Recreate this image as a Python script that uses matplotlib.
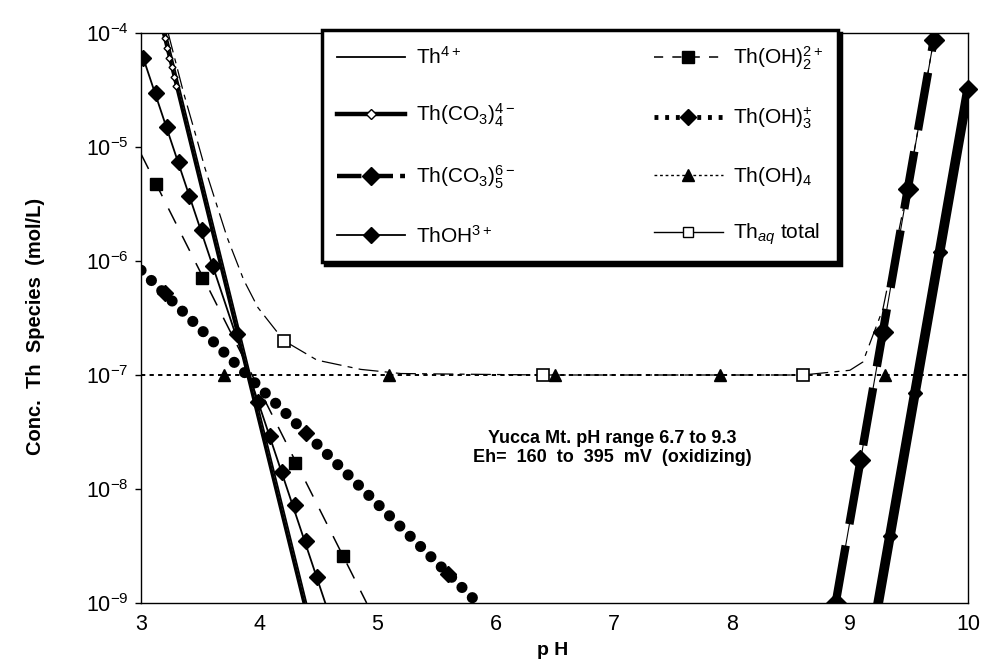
import matplotlib
matplotlib.use("Agg")
import matplotlib.pyplot as plt
from matplotlib.lines import Line2D

plt.rcParams['font.family'] = ['Liberation Sans', 'DejaVu Sans']
plt.rcParams['mathtext.fontset'] = 'custom'
plt.rcParams['mathtext.rm'] = 'Liberation Sans'
plt.rcParams['mathtext.it'] = 'Liberation Sans:italic'
plt.rcParams['mathtext.bf'] = 'Liberation Sans:bold'

# ---- species concentrations (mol/L) versus pH ----
th4_ph = [3.21, 4.40]
th4_c = [1e-4, 1e-9]

thco34_left_ph = [3.19, 4.38]
thco34_left_c = [1e-4, 1e-9]
thco34_left_mk_ph = [3.20, 3.22, 3.24, 3.26, 3.28, 3.30]
thco34_left_mk_c = [9.1e-5, 7.4e-5, 6.0e-5, 5.0e-5, 4.1e-5, 3.4e-5]
thco34_right_ph = [9.24, 10.0]
thco34_right_c = [1e-9, 3.2e-5]
thco34_right_mk_ph = [9.34, 9.55, 9.76]
thco34_right_mk_c = [3.9e-9, 6.9e-8, 1.2e-6]
thco34_end_ph = [10.0]
thco34_end_c = [3.2e-5]

thco35_ph = [8.88, 9.72]
thco35_c = [1e-9, 1e-4]
thco35_mk_ph = [8.88, 9.09, 9.28, 9.49, 9.71]
thco35_mk_c = [1e-9, 1.8e-8, 2.4e-7, 4.3e-6, 8.7e-5]

thoh_ph = [3.02, 4.56]
thoh_c = [6.0e-5, 1e-9]
thoh_mk_ph = [3.02, 3.13, 3.22, 3.32, 3.41, 3.52, 3.61, 3.81, 3.99, 4.09,
              4.19, 4.30, 4.40, 4.49]
thoh_mk_c = [6.0e-5, 2.95e-5, 1.5e-5, 7.4e-6, 3.7e-6, 1.86e-6, 9.1e-7,
             2.3e-7, 5.8e-8, 2.9e-8, 1.4e-8, 7.2e-9, 3.5e-9, 1.7e-9]

thoh2_ph = [3.0, 4.91]
thoh2_c = [8.7e-6, 1e-9]
thoh2_mk_ph = [3.13, 3.52, 4.30, 4.71]
thoh2_mk_c = [4.7e-6, 7.1e-7, 1.7e-8, 2.6e-9]

thoh3_ph = [3.0, 5.85]
thoh3_c = [8.3e-7, 1e-9]
thoh3_mk_ph = [3.2, 4.4, 5.6]
thoh3_mk_c = [5.2e-7, 3.1e-8, 1.8e-9]

thoh4_ph = [3.0, 10.0]
thoh4_c = [1e-7, 1e-7]
thoh4_mk_ph = [3.7, 5.1, 6.5, 7.9, 9.3]
thoh4_mk_c = [1e-7, 1e-7, 1e-7, 1e-7, 1e-7]

total_ph = [3.23, 3.36, 3.47, 3.54, 3.65, 3.73, 3.87, 3.99, 4.21, 4.49, 4.86,
            5.2, 6.4, 8.6, 9.0, 9.11, 9.20, 9.28, 9.50, 9.72]
total_c = [1.0e-4, 3.0e-5, 1.2e-5, 6.6e-6, 2.9e-6, 1.6e-6, 6.8e-7, 3.9e-7,
           2.0e-7, 1.35e-7, 1.12e-7, 1.03e-7, 1.0e-7, 1.0e-7, 1.1e-7, 1.3e-7,
           2.3e-7, 3.8e-7, 5.0e-6, 1.0e-4]
total_mk_ph = [4.21, 6.4, 8.6]
total_mk_c = [2.0e-7, 1.0e-7, 1.0e-7]

x_ticks = [3, 4, 5, 6, 7, 8, 9, 10]
y_ticks = [1e-9, 1e-8, 1e-7, 1e-6, 1e-5, 1e-4]

labels = {
    'th4': 'Th$^{4+}$',
    'thco34': 'Th(CO$_3$)$_4^{4-}$',
    'thco35': 'Th(CO$_3$)$_5^{6-}$',
    'thoh': 'ThOH$^{3+}$',
    'thoh2': 'Th(OH)$_2^{2+}$',
    'thoh3': 'Th(OH)$_3^{+}$',
    'thoh4': 'Th(OH)$_4$',
    'total': 'Th$_{aq}$ total',
}

W, H = 984, 667
fig = plt.figure(figsize=(W / 100, H / 100), dpi=100)
ax = fig.add_axes([141 / W, 1 - 603 / H, (968 - 141) / W, (603 - 33) / H])
ax.set_yscale('log')
ax.set_xlim(3, 10)
ax.set_ylim(1e-9, 1e-4)

K = 'black'

# Th(OH)4 : thin short dashes with triangles
ax.plot(thoh4_ph, thoh4_c, color=K, lw=1.4, dashes=(2.2, 2.2))
ax.plot(thoh4_mk_ph, thoh4_mk_c, ls='none', marker='^', ms=9, color=K)

# aqueous total : thin broken line with open squares
ax.plot(total_ph, total_c, color=K, lw=0.9, dashes=(16, 5, 4, 5))
ax.plot(total_mk_ph, total_mk_c, ls='none', marker='s', ms=8, mfc='white',
        mec=K, mew=1.2)

# Th(OH)2 : thin dashes with filled squares
ax.plot(thoh2_ph, thoh2_c, color=K, lw=1.1, dashes=(11, 9))
ax.plot(thoh2_mk_ph, thoh2_mk_c, ls='none', marker='s', ms=9, color=K)

# Th(OH)3 : heavy dotted line with diamonds
ax.plot(thoh3_ph, thoh3_c, color=K, lw=8, dashes=(0.01, 1.3),
        dash_capstyle='round')
ax.plot(thoh3_mk_ph, thoh3_mk_c, ls='none', marker='D', ms=8, color=K)

# ThOH3+ : thin solid with filled diamonds
ax.plot(thoh_ph, thoh_c, color=K, lw=1.3)
ax.plot(thoh_mk_ph, thoh_mk_c, ls='none', marker='D', ms=8.5, color=K)

# Th4+ : thin solid
ax.plot(th4_ph, th4_c, color=K, lw=1.3)

# Th(CO3)4 : heavy solid with small diamonds
ax.plot(thco34_left_ph, thco34_left_c, color=K, lw=2.4)
ax.plot(thco34_left_mk_ph, thco34_left_mk_c, ls='none', marker='D', ms=3.5,
        mfc='white', mec=K, mew=1)
ax.plot(thco34_right_ph, thco34_right_c, color=K, lw=7)
ax.plot(thco34_right_mk_ph, thco34_right_mk_c, ls='none', marker='D', ms=7.5,
        color=K)
ax.plot(thco34_end_ph, thco34_end_c, ls='none', marker='D', ms=9.5,
        color=K, clip_on=False)

# Th(CO3)5 : heavy long dashes with filled diamonds
ax.plot(thco35_ph, thco35_c, color=K, lw=0.8)
ax.plot(thco35_ph, thco35_c, color=K, lw=6, dashes=(7, 2.6))
ax.plot(thco35_mk_ph, thco35_mk_c, ls='none', marker='D', ms=10, color=K)

# axes styling
ax.set_xticks(x_ticks)
ax.set_xticklabels([str(v) for v in x_ticks])
ax.set_yticks(y_ticks)
ax.minorticks_off()
ax.tick_params(axis='both', which='major', labelsize=15.5, direction='out',
               length=4, width=1, pad=5)
ax.tick_params(axis='x', length=0, pad=8)
for sp in ax.spines.values():
    sp.set_linewidth(1.0)

ax.set_xlabel('p H', fontsize=14, fontweight='bold')
ax.xaxis.set_label_coords((553 - 141) / 827, (603 - 642) / 570)
ax.set_ylabel('Conc.  Th  Species  (mol/L)', fontsize=14.5, fontweight='bold')
ax.yaxis.set_label_coords((45 - 141) / 827, (603 - 326) / 570)

ax.text(0.5695, 0.272, 'Yucca Mt. pH range 6.7 to 9.3\nEh=  160  to  395  mV  (oxidizing)',
        transform=ax.transAxes, ha='center', va='center', fontsize=13,
        fontweight='bold', linespacing=1.15)

# legend proxies
h = [
    Line2D([], [], color=K, lw=1.3),
    Line2D([], [], color=K, lw=3.2, marker='D', ms=5, mfc='white', mec=K),
    Line2D([], [], color=K, lw=3.2, dashes=(5.5, 1.6), marker='D', ms=9),
    Line2D([], [], color=K, lw=1.3, marker='D', ms=8.5),
    Line2D([], [], color=K, lw=1.1, dashes=(6, 6), marker='s', ms=8),
    Line2D([], [], color=K, lw=3.5, dashes=(0.8, 1.4), marker='D', ms=8),
    Line2D([], [], color=K, lw=1.0, dashes=(2, 2), marker='^', ms=8),
    Line2D([], [], color=K, lw=1.0, marker='s', ms=7, mfc='white', mec=K),
]
keys = ['th4', 'thco34', 'thco35', 'thoh', 'thoh2', 'thoh3', 'thoh4', 'total']
leg_fs = 15
leg_px = leg_fs * 100 / 72
leg_w, leg_h = 516, 232
anchor = ((322 - 141) / 827, (603 - 30) / 570)


def make_legend(colsp, labsp):
    lg = ax.legend(h, [labels[k] for k in keys], ncol=2, loc='upper left',
                   bbox_to_anchor=anchor, borderaxespad=0, fontsize=leg_fs,
                   handlelength=3.3, handletextpad=0.5, labelspacing=labsp,
                   columnspacing=colsp, borderpad=0.7, numpoints=1,
                   fancybox=False, framealpha=1,
                   shadow={'color': 'black', 'alpha': 1})
    lg.get_frame().set_edgecolor(K)
    lg.get_frame().set_linewidth(2.5)
    return lg


# size the legend box so it spans the intended frame
leg = make_legend(0.0, 0.0)
fig.canvas.draw()
bb = leg.get_frame().get_window_extent()
colsp = (leg_w - bb.width) / leg_px
labsp = (leg_h - bb.height) / (3 * leg_px)
leg.remove()
leg = make_legend(colsp, labsp)

fig.savefig('out.png', dpi=100, facecolor='white')
